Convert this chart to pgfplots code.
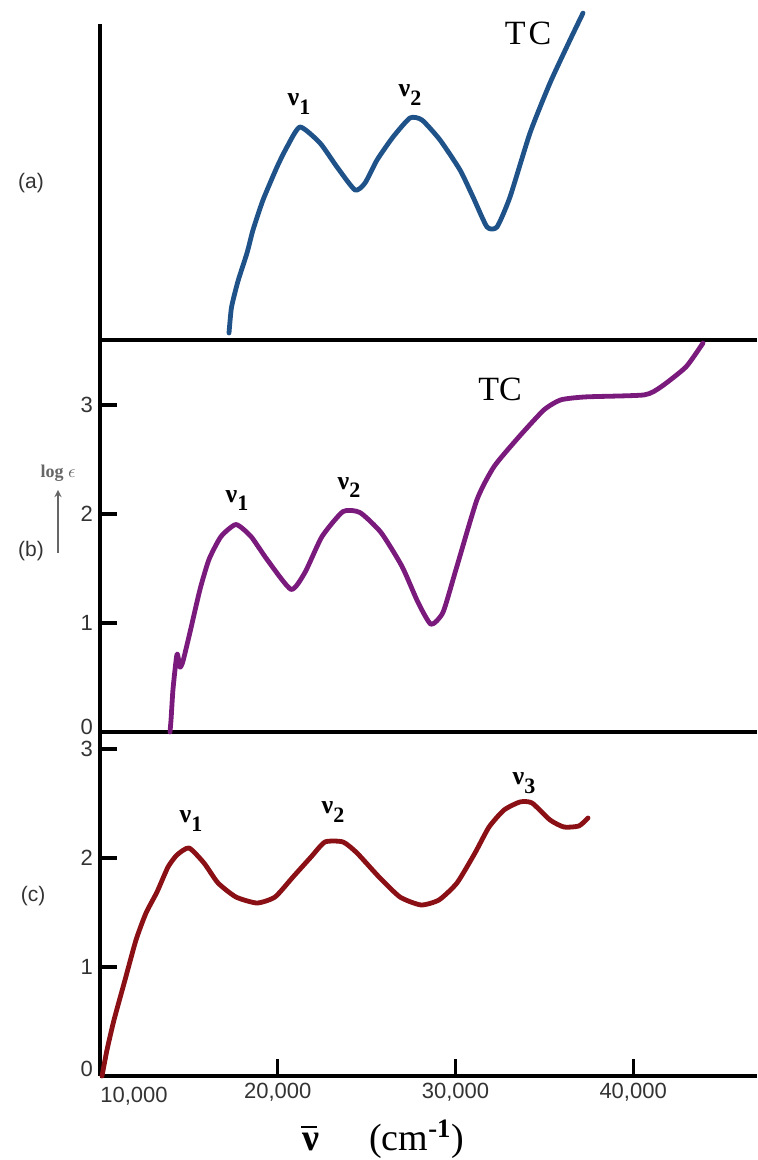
\documentclass[border=0pt]{standalone}
\usepackage{pgfplots}
\usepackage{pgfplotstable}
\pgfplotsset{compat=1.18}
\usepackage{fontspec}
\setmainfont{Liberation Serif}
\newfontfamily\arialf{Liberation Sans}
\definecolor{cA}{HTML}{1F5288}
\definecolor{cB}{HTML}{7A1A7C}
\definecolor{cC}{HTML}{8A1015}

\pgfplotstableread{
x y
17259 0.064
17400 0.300
17765 0.540
18272 0.798
18609 1.009
19172 1.284
19960 1.587
20522 1.771
21254 1.954
22379 1.807
23336 1.587
24349 1.376
24912 1.440
25587 1.651
26487 1.862
27444 2.037
28119 2.018
29132 1.835
30257 1.560
30989 1.312
31776 1.037
32339 1.037
33071 1.312
34196 1.899
35322 2.358
36447 2.752
37178 2.999
}\dataA

\pgfplotstableread{
x y
13939 0.000
14000 0.119
14108 0.393
14333 0.714
14502 0.595
14670 0.650
15064 0.915
15627 1.308
16133 1.583
16809 1.793
17653 1.903
18497 1.793
19397 1.583
20748 1.308
21535 1.464
22492 1.793
23674 2.022
24630 2.013
25812 1.830
26994 1.519
27894 1.189
28625 0.988
29301 1.098
30032 1.491
31214 2.132
32170 2.434
33577 2.708
34983 2.955
35940 3.047
37347 3.074
40611 3.092
41567 3.166
42974 3.349
43931 3.568
}\dataB

\pgfplotstableread{
x y
10113 0.000
10394 0.239
10788 0.514
11407 0.881
12026 1.248
12588 1.495
13207 1.688
13826 1.917
14333 2.028
15008 2.092
15852 1.954
16640 1.771
17653 1.642
18834 1.587
19847 1.642
20860 1.826
21873 2.009
22661 2.147
23674 2.147
24461 2.046
25699 1.826
26881 1.642
28063 1.569
29075 1.615
30088 1.771
31101 2.046
31889 2.284
32733 2.440
33633 2.514
34309 2.505
35322 2.349
36109 2.284
36953 2.294
37460 2.367
}\dataC

\pgfplotsset{
 panel/.style={
  scale only axis, width=328.5pt, xmin=10000, xmax=46970,
  axis x line=bottom, axis y line=left,
  axis line style={line width=1.6pt, -, black},
  tick align=inside, major tick length=8.5pt,
  tick style={line width=1.6pt, black},
  ticklabel style={font=\arialf\fontsize{11}{11}\selectfont, text=black!80},
  scaled x ticks=false, scaled y ticks=false,
  clip=false,
  anchor=south west,
 },
 curve/.style={line width=2.4pt, line join=round, line cap=round, smooth, tension=0.35, no markers},
}
\newcommand{\nul}[1]{{\fontsize{13}{13}\selectfont\bfseries ν\raisebox{-0.32em}{\fontsize{11}{11}\selectfont #1}}}

\begin{document}
\begin{tikzpicture}
\useasboundingbox (0,0) rectangle (378.5pt,580pt);

% panel (a)
\begin{axis}[panel, at={(50pt,410pt)}, height=158pt, ymin=0, ymax=2.899,
  xtick=\empty, ytick=\empty]
\addplot[curve, cA] table[x=x,y=y] {\dataA};
\node at (axis cs:21198,2.165) {\nul{1}};
\node at (axis cs:27444,2.248) {\nul{2}};
\node[font=\fontsize{17}{17}\selectfont] at (axis cs:34084,2.817) {T\kern1.5pt C};
\end{axis}

% panel (b)
\begin{axis}[panel, at={(50pt,214pt)}, height=196pt, ymin=0, ymax=3.596,
  xtick=\empty, ytick={1,2,3}, yticklabels={1,2,3}]
\addplot[curve, cB] table[x=x,y=y] {\dataB};
\node at (axis cs:17709,2.123) {\nul{1}};
\node at (axis cs:24011,2.242) {\nul{2}};
\node[font=\fontsize{17}{17}\selectfont] at (axis cs:32508,3.138) {TC};
\node[anchor=east, font=\arialf\fontsize{11}{11}\selectfont, text=black!80, yshift=2.5pt] at (axis cs:10000,0) {0};
\end{axis}

% panel (c)
\begin{axis}[panel, at={(50pt,42pt)}, height=172pt, ymin=0, ymax=3.156,
  xtick={20000,30000,40000}, xticklabels={{20,000},{30,000},{40,000}},
  ytick={1,2,3}, yticklabels={1,2,3},
  xlabel={{\bfseries ν\kern-0.47em\raisebox{0.58em}{\rule{0.42em}{0.045em}}}\hspace{26pt}(cm\textsuperscript{\bfseries -1})},
  xlabel style={at={(rel axis cs:0.431,0)}, anchor=center, yshift=-31.5pt, font=\fontsize{19}{19}\selectfont}]
\addplot[curve, cC] table[x=x,y=y] {\dataC};
\node at (axis cs:15121,2.339) {\nul{1}};
\node at (axis cs:23111,2.422) {\nul{2}};
\node at (axis cs:33858,2.688) {\nul{3}};
\node[anchor=east, font=\arialf\fontsize{11}{11}\selectfont, text=black!80, yshift=3.5pt] at (axis cs:10000,0) {0};
\node[anchor=north west, font=\arialf\fontsize{11}{11}\selectfont, text=black!80, inner sep=0pt, yshift=-5.5pt] at (axis cs:10000,0) {10,000};
\end{axis}

% side labels
\node[font=\arialf\fontsize{10.5}{10.5}\selectfont, text=black!80] at (15.5pt,488.5pt) {(a)};
\node[font=\arialf\fontsize{10.5}{10.5}\selectfont, text=black!80] at (15.5pt,304.5pt) {(b)};
\node[font=\arialf\fontsize{10.5}{10.5}\selectfont, text=black!80] at (16.5pt,132pt) {(c)};
\node[font=\fontsize{9}{9}\selectfont\bfseries, text=black!60] at (29pt,343.5pt) {log $\epsilon$};
\draw[black!60, line width=0.6pt, -stealth] (29pt,303.5pt) -- (29pt,335pt);
\end{tikzpicture}
\end{document}
